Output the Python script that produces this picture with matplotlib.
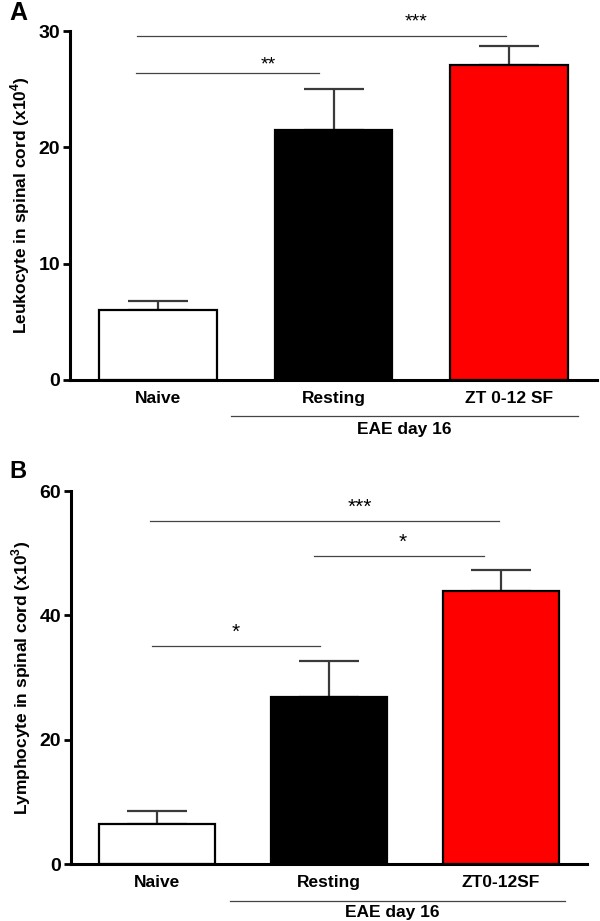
import matplotlib as mpl
from matplotlib import pyplot as plt

mpl.rcParams["font.family"] = ["Liberation Sans", "DejaVu Sans"]
mpl.rcParams["font.weight"] = "bold"
mpl.rcParams["mathtext.fontset"] = "custom"
mpl.rcParams["mathtext.bf"] = "Liberation Sans:bold"
mpl.rcParams["mathtext.rm"] = "Liberation Sans:bold"

# panel A data
groups_a = ["Naive", "Resting", "ZT 0-12 SF"]
leuko_mean = [6.0, 21.5, 27.1]
leuko_sem = [0.8, 3.5, 1.6]
# panel B data
groups_b = ["Naive", "Resting", "ZT0-12SF"]
lympho_mean = [6.4, 26.8, 43.9]
lympho_sem = [2.1, 5.8, 3.4]

bar_colors = ["white", "black", "#ff0000"]

# significance brackets: (x_start, x_end, y, label, label_x, label_y)
sig_a = [(-0.12, 1.98, 29.6, "***", 1.47, 30.8),
         (-0.125, 0.92, 26.4, "**", 0.63, 27.1)]
sig_b = [(-0.04, 1.99, 55.1, "***", 1.18, 57.3),
         (0.91, 1.90, 49.5, "*", 1.43, 51.8),
         (-0.03, 0.95, 35.0, "*", 0.46, 37.3)]

fig = plt.figure(figsize=(6, 9.21), dpi=100)
ax_a = fig.add_axes([70 / 600, 1 - 380 / 921, 527 / 600, 349 / 921])
ax_b = fig.add_axes([71 / 600, 1 - 864 / 921, 516 / 600, 373 / 921])


def draw_panel(ax, groups, means, sems, ymax, yticks, ylabel, sigs, star_size,
               group_line, group_text):
    x = range(len(groups))
    ax.bar(x, means, width=0.67, color=bar_colors, edgecolor="black",
           linewidth=1.6, zorder=2)
    ax.errorbar(x, means, yerr=[[0] * len(sems), sems], fmt="none",
                ecolor="#3a3a3a", elinewidth=1.6, capsize=21.5, capthick=1.6,
                zorder=1)
    ax.set_xlim(-0.5, 2.5)
    ax.set_ylim(0, ymax)
    ax.set_yticks(yticks)
    ax.set_xticks(list(x))
    ax.set_xticklabels(groups, fontsize=12.5, fontweight="bold")
    ax.tick_params(axis="x", length=0, pad=8)
    ax.tick_params(axis="y", length=5, width=2, direction="out",
                   labelsize=14, pad=2)
    for lab in ax.get_yticklabels():
        lab.set_fontweight("bold")
    for side in ["top", "right"]:
        ax.spines[side].set_visible(False)
    for side in ["left", "bottom"]:
        ax.spines[side].set_linewidth(2.2)
    ax.set_ylabel(ylabel, fontsize=12.5, fontweight="bold", labelpad=5)

    for x0, x1, y, lab, lx, ly in sigs:
        ax.plot([x0, x1], [y, y], color="#444444", lw=0.9, clip_on=False)
        ax.text(lx, ly, lab, ha="center", va="center", fontsize=star_size,
                fontweight="normal", clip_on=False)

    gx0, gx1, gy = group_line
    ax.plot([gx0, gx1], [gy, gy], color="#444444", lw=0.9, clip_on=False,
            transform=ax.get_xaxis_transform())
    tx, ty = group_text
    ax.text(tx, ty, "EAE day 16", ha="center", va="center", fontsize=12.5,
            fontweight="bold", transform=ax.get_xaxis_transform())


draw_panel(ax_a, groups_a, leuko_mean, leuko_sem, 30, [0, 10, 20, 30],
           r"Leukocyte in spinal cord (x10$^{\mathbf{4}}$)", sig_a, 14,
           (0.416, 2.39, -0.103), (1.40, -0.143))
draw_panel(ax_b, groups_b, lympho_mean, lympho_sem, 60, [0, 20, 40, 60],
           r"Lymphocyte in spinal cord (x10$^{\mathbf{3}}$)", sig_b, 15,
           (0.424, 2.37, -0.099), (1.37, -0.129))

fig.text(9 / 600, 1 - 13 / 921, "A", fontsize=18, fontweight="bold",
         va="center", ha="left")
fig.text(9 / 600, 1 - 471 / 921, "B", fontsize=17, fontweight="bold",
         va="center", ha="left")

plt.savefig("out.png", dpi=100)
